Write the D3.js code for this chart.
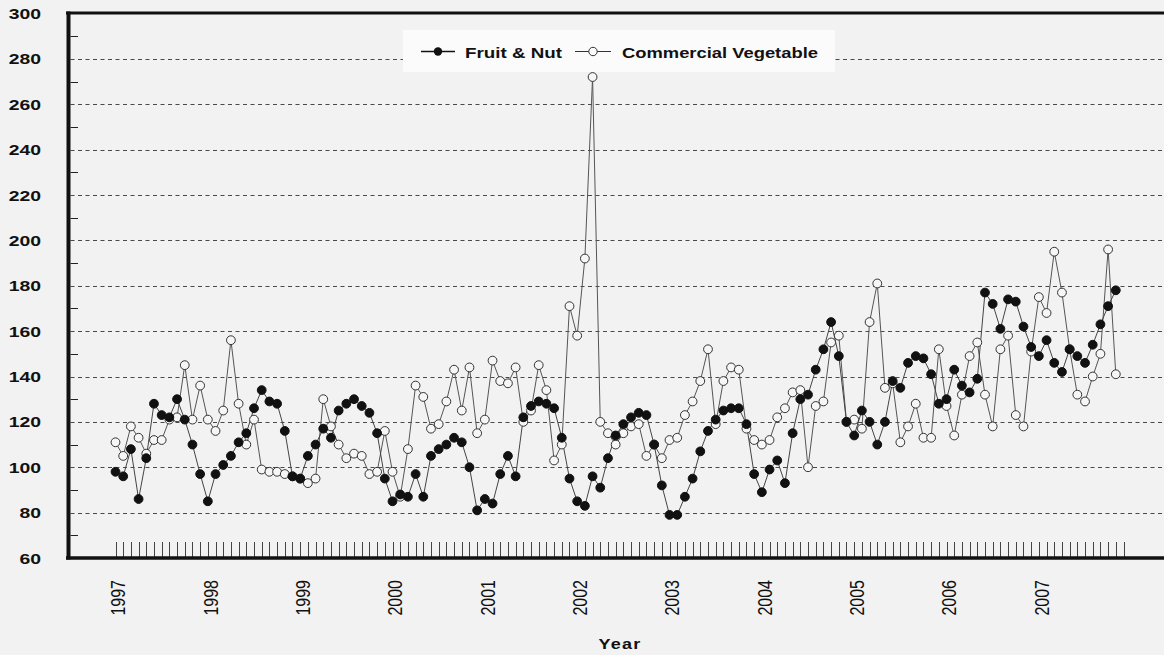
<!DOCTYPE html>
<html>
<head>
<meta charset="utf-8">
<script src="https://cdn.jsdelivr.net/npm/d3@7"></script>
<style>
  html, body { margin: 0; padding: 0; background: #f2f2f2; }
  svg { display: block; }
  text { font-family: "Liberation Sans", Arial, sans-serif; fill: #111; }
</style>
</head>
<body>
<svg id="chart" width="1164" height="655"></svg>
<script>
// ---- data (monthly, Jan 1997 onward) ----
const startYear = 1997;
const monthCount = 132; // tick marks Jan 1997 .. Dec 2007
const yearLabels = ["1997","1998","1999","2000","2001","2002","2003","2004","2005","2006","2007"];
const yTickValues = [60,80,100,120,140,160,180,200,220,240,260,280,300];
const yMinorTicks = [70,90,110,130,150,170,190,210,230,250,270,290];
const seriesNames = ["Fruit & Nut", "Commercial Vegetable"];

const fruitNut = [
  98, 96,108, 86,104,128,123,122,130,121,110, 97,
  85, 97,101,105,111,115,126,134,129,128,116, 96,
  95,105,110,117,113,125,128,130,127,124,115, 95,
  85, 88, 87, 97, 87,105,108,110,113,111,100, 81,
  86, 84, 97,105, 96,122,127,129,128,126,113, 95,
  85, 83, 96, 91,104,114,119,122,124,123,110, 92,
  79, 79, 87, 95,107,116,121,125,126,126,119, 97,
  89, 99,103, 93,115,130,132,143,152,164,149,120,
 114,125,120,110,120,138,135,146,149,148,141,128,
 130,143,136,133,139,177,172,161,174,173,162,153,
 149,156,146,142,152,149,146,154,163,171,178
];

const commercialVegetable = [
 111,105,118,113,106,112,112,121,122,145,121,136,
 121,116,125,156,128,110,121, 99, 98, 98, 97, 96,
  95, 93, 95,130,118,110,104,106,105, 97, 98,116,
  98, 87,108,136,131,117,119,129,143,125,144,115,
 121,147,138,137,144,120,125,145,134,103,110,171,
 158,192,272,120,115,110,115,118,119,105,110,104,
 112,113,123,129,138,152,119,138,144,143,117,112,
 110,112,122,126,133,134,100,127,129,155,158,120,
 121,117,164,181,135,137,111,118,128,113,113,152,
 127,114,132,149,155,132,118,152,158,123,118,151,
 175,168,195,177,152,132,129,140,150,196,141
];

// ---- drawing ----
const W = 1164, H = 655;
const svg = d3.select("#chart");

const x = d3.scaleLinear().domain([0, monthCount - 1]).range([115.5, 1123.5]);
const y = d3.scaleLinear().domain([60, 300]).range([558, 13.5]);

svg.append("rect").attr("width", W).attr("height", H).attr("fill", "#f2f2f2");

const axisLeftX = 68.5;
const plotRight = W;

// dashed gridlines
svg.append("g").selectAll("line")
  .data(yTickValues.filter(v => v > 60 && v < 300))
  .join("line")
  .attr("x1", axisLeftX + 2).attr("x2", plotRight)
  .attr("y1", d => Math.round(y(d)) + 0.5).attr("y2", d => Math.round(y(d)) + 0.5)
  .attr("stroke", "#4a4a4a").attr("stroke-width", 1)
  .attr("stroke-dasharray", "4,3.5");

// minor y ticks (inside)
svg.append("g").selectAll("line")
  .data(yMinorTicks)
  .join("line")
  .attr("x1", axisLeftX + 2).attr("x2", 78)
  .attr("y1", d => Math.round(y(d)) + 0.5).attr("y2", d => Math.round(y(d)) + 0.5)
  .attr("stroke", "#222").attr("stroke-width", 1);

// month ticks on bottom axis
svg.append("g").selectAll("line")
  .data(d3.range(monthCount))
  .join("line")
  .attr("x1", d => Math.round(x(d)) + 0.5).attr("x2", d => Math.round(x(d)) + 0.5)
  .attr("y1", 542).attr("y2", 557)
  .attr("stroke", "#444").attr("stroke-width", 1);

// frame: top, left, bottom
svg.append("line").attr("x1", 66).attr("x2", W).attr("y1", 13).attr("y2", 13)
  .attr("stroke", "#111").attr("stroke-width", 3);
svg.append("line").attr("x1", axisLeftX).attr("x2", axisLeftX).attr("y1", 11.5).attr("y2", 559.5)
  .attr("stroke", "#111").attr("stroke-width", 4);
svg.append("line").attr("x1", 66).attr("x2", W).attr("y1", 558).attr("y2", 558)
  .attr("stroke", "#111").attr("stroke-width", 3.5);

// y labels (horizontally stretched like the original)
svg.append("g").selectAll("text")
  .data(yTickValues)
  .join("text")
  .attr("transform", d => `translate(41,${y(d)}) scale(1.25,1)`)
  .attr("text-anchor", "end")
  .attr("dy", "0.36em")
  .attr("font-size", 15.5)
  .attr("font-weight", "bold")
  .text(d => d);

// year labels (rotated)
svg.append("g").selectAll("text")
  .data(yearLabels)
  .join("text")
  .attr("transform", (d, i) => `translate(${x(i * 12) + 2.5},580) scale(1.25,1) rotate(-90)`)
  .attr("text-anchor", "end")
  .attr("dy", "0.36em")
  .attr("font-size", 16)
  .text(d => d);

// axis title
svg.append("text")
  .attr("transform", "translate(620,644) scale(1.2,1)")
  .attr("text-anchor", "middle")
  .attr("dy", "0.36em")
  .attr("font-size", 15)
  .attr("font-weight", "bold")
  .attr("letter-spacing", 1)
  .text("Year");

// series lines
const line = d3.line().x((d, i) => x(i)).y(d => y(d));
svg.append("path").datum(commercialVegetable).attr("d", line)
  .attr("fill", "none").attr("stroke", "#555").attr("stroke-width", 1);
svg.append("path").datum(fruitNut).attr("d", line)
  .attr("fill", "none").attr("stroke", "#444").attr("stroke-width", 1);

// markers
const r = 4.4;
svg.append("g").selectAll("circle")
  .data(commercialVegetable)
  .join("circle")
  .attr("cx", (d, i) => x(i)).attr("cy", d => y(d)).attr("r", r)
  .attr("fill", "#f6f6f6").attr("stroke", "#333").attr("stroke-width", 1);
svg.append("g").selectAll("circle")
  .data(fruitNut)
  .join("circle")
  .attr("cx", (d, i) => x(i)).attr("cy", d => y(d)).attr("r", r)
  .attr("fill", "#111").attr("stroke", "#111").attr("stroke-width", 1);

// legend
const lg = svg.append("g");
lg.append("rect").attr("x", 403).attr("y", 30).attr("width", 432).attr("height", 42).attr("fill", "#fbfbfb");
lg.append("line").attr("x1", 421).attr("x2", 455).attr("y1", 51.5).attr("y2", 51.5).attr("stroke", "#111").attr("stroke-width", 1.5);
lg.append("circle").attr("cx", 438).attr("cy", 51.5).attr("r", 4.2).attr("fill", "#111");
lg.append("text").attr("x", 465).attr("y", 52).attr("dy", "0.36em")
  .attr("font-size", 15.5).attr("font-weight", "bold")
  .attr("textLength", 97).attr("lengthAdjust", "spacingAndGlyphs")
  .text(seriesNames[0]);
lg.append("line").attr("x1", 575).attr("x2", 611).attr("y1", 51.5).attr("y2", 51.5).attr("stroke", "#333").attr("stroke-width", 1);
lg.append("circle").attr("cx", 593).attr("cy", 51.5).attr("r", 4.2).attr("fill", "#fbfbfb").attr("stroke", "#333");
lg.append("text").attr("x", 622).attr("y", 52).attr("dy", "0.36em")
  .attr("font-size", 15.5).attr("font-weight", "bold")
  .attr("textLength", 196).attr("lengthAdjust", "spacingAndGlyphs")
  .text(seriesNames[1]);
</script>
</body>
</html>
